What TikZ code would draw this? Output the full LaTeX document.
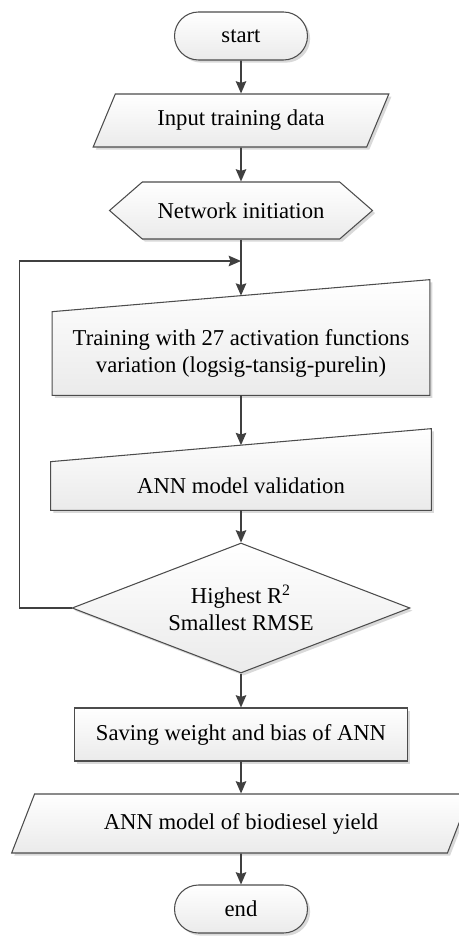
\documentclass[tikz,border=0pt]{standalone}
\usepackage{fontspec}
\setmainfont{Liberation Serif}
\usetikzlibrary{arrows.meta,shapes.geometric,shapes.symbols,shadows,calc,backgrounds}

\begin{document}
\begin{tikzpicture}[x=0.02cm, y=-0.02cm,
    font=\fontsize{12.9}{15.5}\selectfont,
    box/.style={draw=black!70, line width=0.6pt, top color=white, bottom color=black!8,
        drop shadow={shadow xshift=1.5pt, shadow yshift=-1.5pt, fill=black!15, opacity=1}},
    term/.style={box, rectangle, rounded corners=0.48cm, minimum width=2.66cm, minimum height=0.96cm},
    io/.style={box, trapezium, trapezium left angle=64, trapezium right angle=116,
        trapezium stretches=true, minimum height=1.06cm},
    proc/.style={box, rectangle, minimum width=6.66cm, minimum height=1.06cm},
    prep/.style={box, signal, signal to=west and east, signal pointer angle=82,
        minimum width=5.26cm, minimum height=1.14cm},
    manual/.style={rectangle, align=center},
    decision/.style={box, diamond, shape aspect=2.6, inner sep=0pt, minimum width=6.76cm,
        minimum height=2.6cm, align=center},
    arr/.style={draw=black!75, line width=0.9pt, -{Stealth[length=7pt, width=6pt, inset=1pt]}}]
    \useasboundingbox (0,0) rectangle (459,936);

    \node [term] (start) at (241,36) {start};
    \node [io, minimum width=5.92cm] (input) at (241,120.5) {Input training data};
    \node [prep] (net) at (241,210.5) {Network initiation};
    \node [manual, minimum width=7.54cm, minimum height=1.66cm] (train) at (241,353.5)
        {Training with 27 activation functions\\variation (logsig-tansig-purelin)};
    \node [manual, minimum width=7.6cm, minimum height=0.96cm] (valid) at (241,486) {ANN model validation};
    \node [decision] (dec) at (241,608) {Highest R\textsuperscript{2}\\Smallest RMSE};
    \node [proc] (save) at (241,734.5) {Saving weight and bias of ANN};
    \node [io, minimum width=9.18cm, minimum height=1.18cm] (model) at (241,823.5) {ANN model of biodiesel yield};
    \node [term] (stop) at (241,909) {end};

    \begin{scope}[on background layer]
        \draw [box] (train.south west) -- (train.south east) -- ($(train.north east)+(0,-32)$)
            -- (train.north west) -- cycle;
        \draw [box] (valid.south west) -- (valid.south east) -- ($(valid.north east)+(0,-33)$)
            -- (valid.north west) -- cycle;
    \end{scope}

    \coordinate (train top) at ($(train.north)+(0,-16)$);
    \coordinate (valid top) at ($(valid.north)+(0,-16.5)$);
    \coordinate (loop) at (241,261);

    \draw [arr] (start.south) -- (input.north);
    \draw [arr] (input.south) -- (net.north);
    \draw [arr] (net.south) -- (train top);
    \draw [arr] (dec.west) -- ++(-52,0) |- (loop);
    \draw [arr] (train.south) -- (valid top);
    \draw [arr] (valid.south) -- (dec.north);
    \draw [arr] (dec.south) -- (save.north);
    \draw [arr] (save.south) -- (model.north);
    \draw [arr] (model.south) -- (stop.north);
\end{tikzpicture}
\end{document}
